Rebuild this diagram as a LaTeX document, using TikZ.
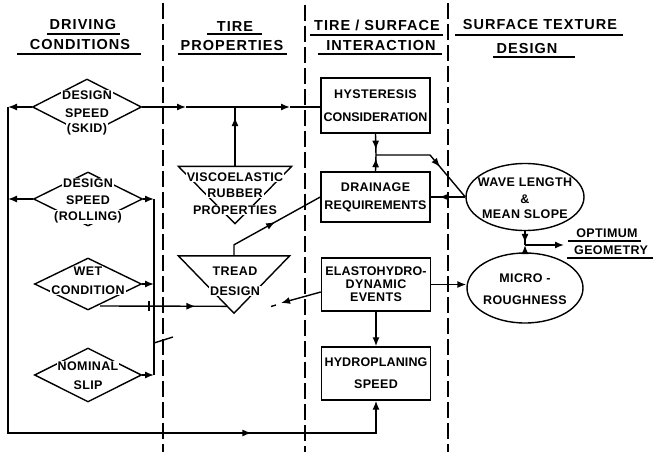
\documentclass[tikz,border=0pt]{standalone}
\usepackage{fontspec}
\setmainfont{Liberation Sans}
\usetikzlibrary{arrows.meta,shapes.geometric,decorations.markings,calc}
\begin{document}
\begin{tikzpicture}[x=1pt,y=-1pt,
  ln/.style={line width=1.4pt},
  endarr/.style={-{Latex[length=9pt,width=7pt]}},
  midarr/.style={postaction={decorate,decoration={markings,mark=at position #1 with {\arrow{Latex[length=9pt,width=7pt]}}}}},
  dia/.style={draw,diamond,line width=1.4pt,minimum width=109pt,minimum height=56pt,inner sep=0pt},
  txt/.style={font=\bfseries\fontsize{12.5}{14}\selectfont\addfontfeature{LetterSpace=3},inner sep=1pt},
  lbl/.style={txt,fill=white},
  plain/.style={txt},
  boxnode/.style={draw,line width=1.4pt,minimum width=109pt,align=center,txt,inner sep=0pt},
  ell/.style={draw,ellipse,line width=1.4pt,inner sep=0pt},
  tri/.style={minimum width=113pt,minimum height=57pt,inner sep=0pt},
  hdr/.style={font=\bfseries\fontsize{14.5}{16}\selectfont\addfontfeature{LetterSpace=7},inner sep=0pt},
  vdash/.style={line width=1.5pt,dash pattern=on 16pt off 5pt},
  uline/.style={line width=1.2pt}
]
\useasboundingbox (0,0) rectangle (653,452);

% column separators
\draw[vdash] (163,3) -- (163,452);
\draw[vdash] (305,5) -- (305,452);
\draw[vdash] (448,3) -- (448,452);

% headers
\node[hdr] (h1a) at (83,25) {DRIVING};
\node[hdr] (h1b) at (80,45) {CONDITIONS};
\draw[uline] (47,34) -- (120,34);
\draw[uline] (17,54) -- (141,54);
\node[hdr] (h2a) at (235,27) {TIRE};
\node[hdr] (h2b) at (232,46) {PROPERTIES};
\draw[uline] (207,34) -- (262,34);
\draw[uline] (178,54) -- (287,54);
\node[hdr] (h3a) at (377,25) {TIRE / SURFACE};
\node[hdr] (h3b) at (381,46) {INTERACTION};
\draw[uline] (310,35) -- (443,35);
\draw[uline] (318,54) -- (442,54);
\node[hdr] (h4a) at (540,25) {SURFACE TEXTURE};
\node[hdr] (h4b) at (527,49) {DESIGN};
\draw[uline] (455,35) -- (623,35);
\draw[uline] (493,57) -- (575,57);

% diamonds (driving conditions)
\node[dia] (d1) at (87,107) {};
\node[lbl] (d1a) at (87,95) {DESIGN};
\node[lbl] (d1b) at (87,113) {SPEED};
\node[lbl] (d1c) at (87,129) {(SKID)};

\node[dia,minimum height=54pt] (d2) at (88,199) {};
\node[lbl] (d2a) at (88,183) {DESIGN};
\node[lbl] (d2b) at (88,200) {SPEED};
\node[lbl] (d2c) at (88,217) {(ROLLING)};

\node[dia,minimum width=107pt,minimum height=52pt] (d3) at (88,284) {};
\node[lbl] (d3a) at (88,271) {WET};
\node[lbl] (d3b) at (88,290) {CONDITION};

\node[dia,minimum width=107pt,minimum height=54pt] (d4) at (88,375) {};
\node[lbl] (d4a) at (88,366) {NOMINAL};
\node[lbl] (d4b) at (88,385) {SLIP};

% tire properties triangles
\node[tri] (visc) at (235,195) {};
\draw[ln] (visc.north west) -- (visc.north east) -- (visc.south) -- cycle;
\node[lbl] (v1) at (235,177) {VISCOELASTIC};
\node[lbl] (v2) at (235,193) {RUBBER};
\node[lbl] (v3) at (235,210) {PROPERTIES};

\node[tri,minimum width=111pt] (tread) at (234,284.5) {};
\draw[ln] (tread.north west) -- (tread.north east) -- (tread.south) -- cycle;
\node[lbl] (t1) at (235,271) {TREAD};
\node[lbl] (t2) at (235,291) {DESIGN};

% interaction boxes
\node[boxnode,minimum height=55pt] (hyst) at (375.5,105.5) {HYSTERESIS\\[9pt]{\addfontfeature{LetterSpace=0}CONSIDERATION}};
\node[boxnode,minimum height=50pt] (drain) at (375.5,197) {DRAINAGE\\[4pt]{\addfontfeature{LetterSpace=1}REQUIREMENTS}};
\node[boxnode,minimum height=53pt] (elasto) at (376,284.5) {{\addfontfeature{LetterSpace=1}ELASTOHYDRO-}\\[-1pt]DYNAMIC\\[-1pt]EVENTS};
\node[boxnode,minimum height=53pt] (hydro) at (376,373.5) {{\addfontfeature{LetterSpace=1}HYDROPLANING}\\[8pt]SPEED};

% surface texture ellipses
\node[ell,minimum width=118pt,minimum height=67pt] (wave) at (525,197) {};
\node[plain] (w1) at (525,182) {WAVE LENGTH};
\node[plain] (w2) at (525,199) {\&};
\node[plain] (w3) at (525,214) {MEAN SLOPE};

\node[ell,minimum width=116pt,minimum height=70pt] (micro) at (525,288) {};
\node[plain] (m1) at (525,278) {MICRO -};
\node[plain] (m2) at (525,300) {ROUGHNESS};

\node[plain] (o1) at (607,233) {OPTIMUM};
\node[plain] (o2) at (611,250) {GEOMETRY};
\draw[uline] (568,241) -- (641,241);
\draw[uline] (567,258) -- (653,258);

% coordinates
\coordinate (a1) at (186,107);
\coordinate (a2) at (290,107);
\coordinate (L1) at (8,107);
\coordinate (L2) at (8,199);
\coordinate (B) at (376,433);
\coordinate (C1) at (154,199);
\coordinate (C3) at (154,284);
\coordinate (C4) at (154,375);
\coordinate (cs) at (154,343);
\coordinate (ws) at (100,306);
\coordinate (tk1) at (149,301);
\coordinate (tk2) at (149,311);
\coordinate (J1) at (376,155);
\coordinate (J2) at (430,155);
\coordinate (J3) at (525,245);
\coordinate (O1) at (564,245);
\coordinate (e2) at (281,303);
\coordinate (e3) at (276,305);
\coordinate (e4) at (271,306.5);

% connectors
\draw[ln,endarr] (d1.east) -- (a1);
\draw[ln,endarr] (a1) -- (a2);
\draw[ln] (a2) -- (a2 -| hyst.west);
\draw[ln,midarr=0.83] (visc.north) -- (visc.north |- d1.east);
\draw[ln,endarr] (d1.west) -- (L1);
\draw[ln,endarr] (d2.west) -- (L2);
\draw[ln,endarr,midarr=0.784] (L1) |- (B) -- (hydro.south);

\draw[ln,endarr] (d2.east) -- (C1);
\draw[ln,endarr] (d3.east) -- (C3);
\draw[ln,endarr] (d4.east) -- (C4);
\draw[ln] (C1) -- (C4);
\draw[ln] (cs) -- ++(19,-6);

\draw[ln,midarr=0.75] (ws) -- ($(tread.north west)!0.88!(tread.south)$);
\draw[ln] (tk1) -- (tk2);

\draw[ln,midarr=0.53] (tread.north) -- ++(0,-11) -- (drain.west);

\draw[ln,midarr=0.75] (hyst.south) -- (J1);
\draw[ln,midarr=0.8] (drain.north) -- (J1);
\draw[ln,midarr=0.64] (J1) -- (J2) -- (wave.west);
\draw[ln,midarr=0.75] (wave.west) -- (wave.west -| drain.east);

\draw[ln,midarr=0.85] (wave.south) -- (J3);
\draw[ln,endarr] (micro.north) -- (J3);
\draw[ln,endarr] (J3) -- (O1);

\draw[ln,endarr] (elasto.east) -- (elasto.east -| micro.west);
\draw[ln,endarr] (elasto.south) -- (hydro.north);
\draw[ln,endarr] ($(elasto.west)+(0,7.5)$) -- (e2);
\draw[ln] (e3) -- (e4);
\end{tikzpicture}
\end{document}
